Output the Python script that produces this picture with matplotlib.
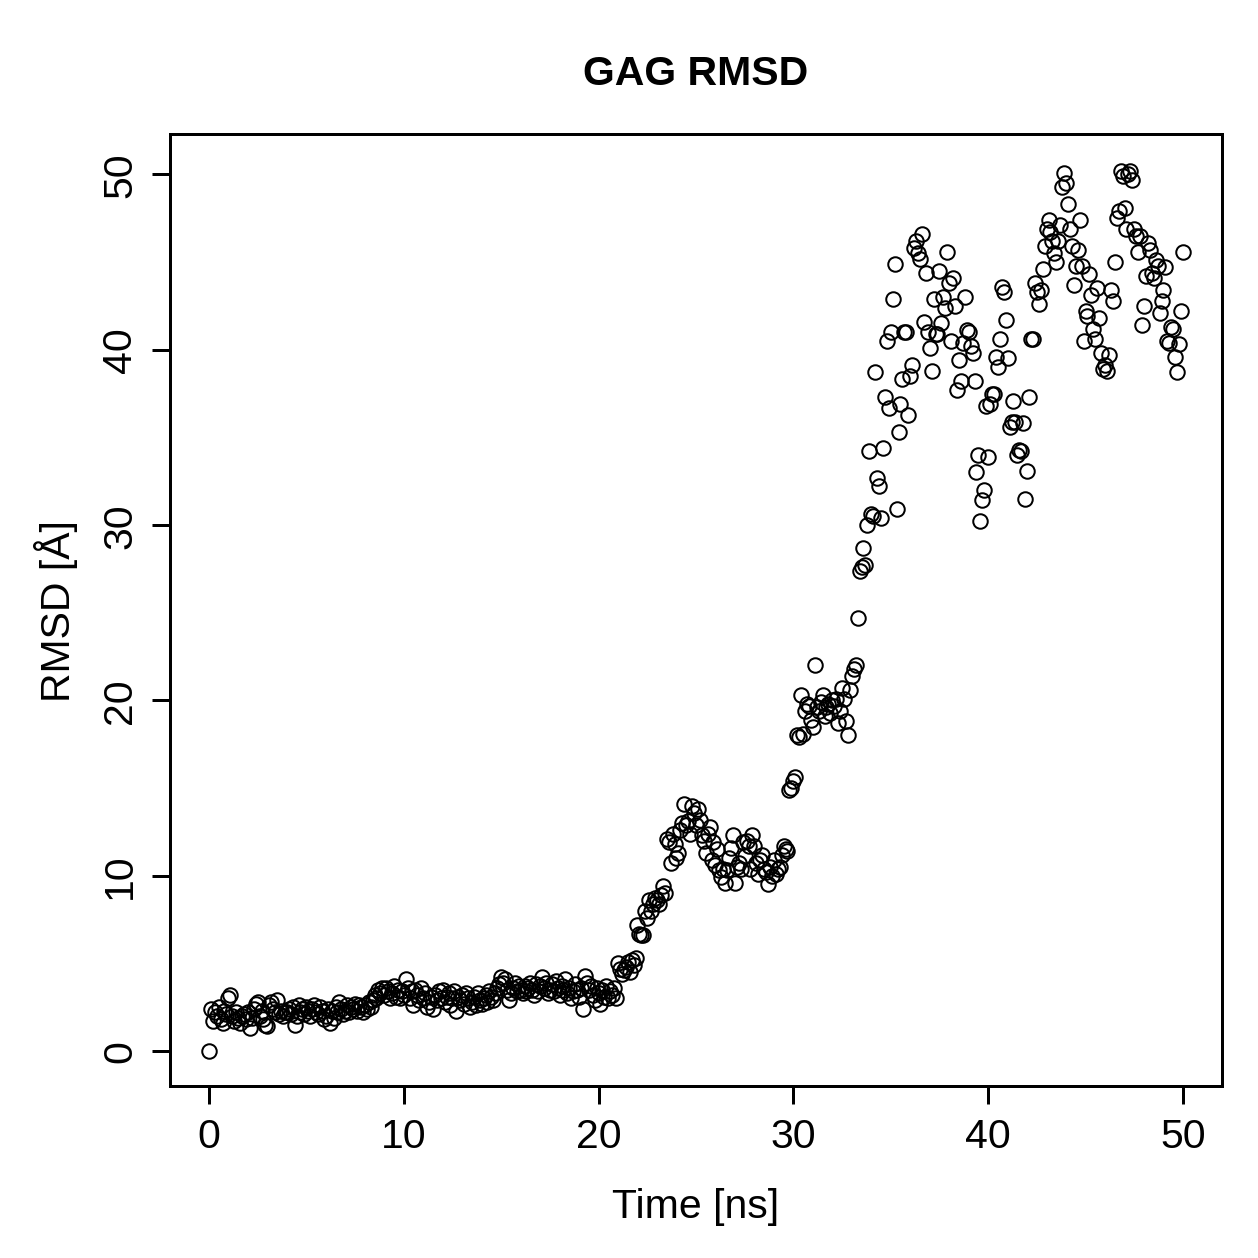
import numpy as np
import matplotlib
matplotlib.use("Agg")
import matplotlib.pyplot as plt

plt.rcParams['font.family'] = ['Liberation Sans', 'DejaVu Sans']

# RMSD values, one frame every 0.1 ns from 0 to 50 ns
rmsd_0_10 = [
    0.0, 2.4, 1.7, 2.2, 2.0, 2.5, 1.8, 1.6, 2.3, 2.1,
    3.0, 3.2, 2.0, 1.7, 2.2, 1.9, 1.6, 2.0, 2.1, 1.8,
    2.2, 1.3, 1.9, 2.4, 2.7, 2.8, 2.0, 2.3, 1.8, 1.5,
    1.4, 2.6, 2.8, 2.4, 2.2, 2.9, 2.1, 2.3, 2.0, 2.2,
    2.2, 2.4, 2.1, 2.5, 1.5, 2.0, 2.6, 2.2, 2.4, 2.1,
    2.5, 2.3, 2.0, 2.4, 2.6, 2.2, 2.1, 2.5, 2.3, 1.8,
    2.0, 2.4, 1.6, 2.3, 1.9, 2.5, 2.2, 2.8, 2.4, 2.1,
    2.3, 2.6, 2.2, 2.5, 2.4, 2.7, 2.3, 2.6, 2.5, 2.2,
    2.6, 2.4, 2.8, 2.5, 2.9, 3.2, 3.0, 3.5, 3.3, 3.6,
    3.2, 3.6, 3.4, 3.0, 3.3, 3.7, 3.1, 3.5, 3.0, 3.4,
]
rmsd_10_21 = [
    3.2, 4.1, 3.6, 3.0, 3.4, 2.6, 3.5, 3.2, 2.9, 3.6,
    3.0, 3.3, 2.5, 2.8, 3.1, 2.4, 3.2, 2.9, 3.4, 3.0,
    3.5, 2.8, 3.1, 3.3, 2.6, 3.0, 3.4, 2.3, 3.1, 2.9,
    3.2, 2.7, 3.3, 3.0, 2.5, 2.8, 3.1, 2.6, 3.3, 2.9,
    2.7, 3.0, 3.2, 2.8, 3.4, 3.1, 2.9, 3.3, 3.6, 3.8,
    4.2, 3.9, 4.1, 3.5, 2.9, 3.3, 3.6, 3.9, 3.4, 3.7,
    3.5, 3.3, 3.7, 3.4, 3.6, 3.9, 3.5, 3.2, 3.8, 3.4,
    3.7, 4.2, 3.6, 3.9, 3.3, 3.5, 3.8, 3.4, 4.0, 3.6,
    3.2, 3.7, 3.5, 4.1, 3.3, 3.6, 3.0, 3.4, 3.8, 3.5,
    3.1, 3.6, 2.4, 4.3, 3.9, 3.5, 3.7, 3.2, 2.9, 3.6,
    3.3, 2.7, 3.5, 3.1, 3.7, 3.0, 3.4, 3.2, 3.6, 3.0,
]
rmsd_21_33 = [
    5.0, 4.7, 4.4, 4.6, 4.8, 5.1, 4.5, 5.2, 4.9, 5.3,
    7.2, 6.7, 6.6, 6.6, 8.0, 7.6, 8.6, 8.0, 8.4, 8.7,
    8.6, 8.4, 8.9, 9.4, 9.0, 12.1, 11.9, 10.7, 12.4, 11.8,
    11.0, 11.3, 12.6, 13.0, 14.1, 12.9, 13.1, 12.4, 14.0, 13.6,
    12.9, 13.8, 13.2, 12.3, 12.0, 11.3, 12.4, 12.8, 10.9, 11.9,
    10.6, 11.5, 10.3, 9.9, 10.4, 9.6, 10.3, 11.0, 11.6, 12.3,
    9.6, 10.5, 10.7, 10.4, 11.9, 11.1, 12.0, 11.7, 10.4, 12.3,
    11.7, 10.7, 10.1, 10.9, 11.2, 10.4, 10.2, 9.5, 10.5, 10.0,
    10.9, 10.1, 10.4, 10.5, 11.2, 11.7, 11.5, 11.4, 14.9, 15.0,
    15.4, 15.6, 18.0, 17.9, 20.3, 18.1, 19.4, 19.8, 19.7, 18.9,
    18.5, 22.0, 19.6, 19.4, 19.9, 20.3, 19.1, 19.6, 19.8, 19.3,
    20.0, 19.7, 20.1, 18.7, 19.4, 20.7, 20.1, 18.8, 18.0, 20.6,
    21.4, 21.8, 22.0,
]
rmsd_33_50 = [
    24.7, 27.4, 27.6, 28.7, 27.7, 30.0, 34.2, 30.6, 30.5, 38.7,
    32.7, 32.2, 30.4, 34.4, 37.3, 40.5, 36.7, 41.0, 42.9, 44.9,
    30.9, 35.3, 36.9, 38.3, 41.0, 41.0, 36.3, 38.5, 39.1, 45.8,
    46.2, 45.5, 45.2, 46.6, 41.6, 44.4, 41.0, 40.1, 38.8, 42.9,
    40.9, 40.9, 44.5, 41.5, 43.0, 42.4, 45.6, 43.8, 40.5, 44.1,
    42.5, 37.7, 39.4, 38.2, 40.4, 43.0, 41.1, 41.0, 40.2, 39.8,
    38.2, 33.0, 34.0, 30.2, 31.4, 32.0, 36.8, 33.9, 36.9, 37.5,
    37.5, 39.6, 39.0, 40.6, 43.6, 43.3, 41.7, 39.5, 35.6, 35.9,
    37.1, 35.9, 34.0, 34.3, 34.2, 35.8, 31.5, 33.1, 37.3, 40.6,
    40.6, 43.8, 43.3, 42.6, 43.4, 44.6, 45.9, 46.9, 47.4, 46.7,
    46.2, 45.5, 45.0, 46.2, 47.1, 49.3, 50.1, 49.5, 48.3, 46.9,
    45.9, 43.7, 44.8, 45.7, 47.4, 44.8, 40.5, 42.2, 41.9, 44.3,
    43.1, 41.2, 40.6, 43.5, 41.8, 39.8, 38.9, 39.1, 38.8, 39.7,
    43.4, 42.8, 45.0, 47.5, 47.9, 50.2, 49.9, 48.1, 46.9, 50.0,
    50.2, 49.7, 46.9, 46.5, 45.6, 46.5, 41.4, 42.5, 44.2, 46.1,
    45.7, 44.4, 44.1, 45.1, 44.8, 42.1, 42.8, 43.4, 44.7, 40.5,
    40.4, 41.3, 41.2, 39.6, 38.7, 40.3, 42.2, 45.6,
]

rmsd = np.array(rmsd_0_10 + rmsd_10_21 + rmsd_21_33 + rmsd_33_50)
time_ns = np.linspace(0, 50, len(rmsd))

x_ticks = [0, 10, 20, 30, 40, 50]
y_ticks = [0, 10, 20, 30, 40, 50]

fs = 16.4
fig = plt.figure(figsize=(6.994, 6.994), dpi=180)
ax = fig.add_axes([0.135, 0.1366, 0.8356, 0.7562])

ax.plot(time_ns, rmsd, linestyle='none', marker='o', markersize=5.8,
        markerfacecolor='none', markeredgecolor='black', markeredgewidth=0.8)

ax.set_xlim(-2.0, 52.0)
ax.set_ylim(-2.0, 52.3)
ax.set_xticks(x_ticks)
ax.set_yticks(y_ticks)
ax.tick_params(direction='out', length=7.2, width=1.2, pad=5.2, labelsize=fs)
for lbl in ax.get_yticklabels():
    lbl.set_rotation(90)
    lbl.set_va('center')
for s in ax.spines.values():
    s.set_linewidth(1.2)

ax.set_xlabel('Time [ns]', fontsize=fs, labelpad=13)
ax.set_ylabel('RMSD [Å]', fontsize=fs, labelpad=9)
ax.set_title('GAG RMSD', fontsize=fs, fontweight='bold', pad=20)

fig.savefig('out.png', dpi=180)
